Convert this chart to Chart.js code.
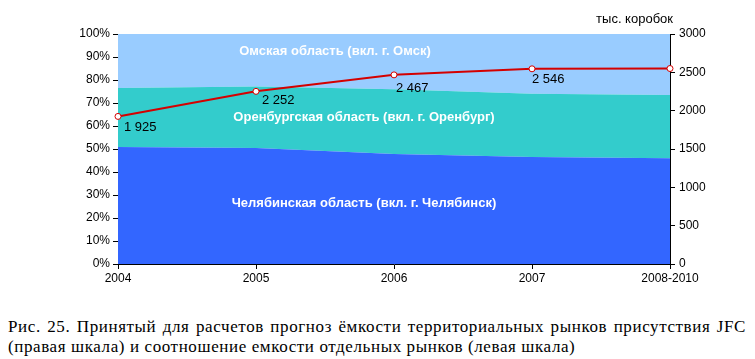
<!DOCTYPE html>
<html><head><meta charset="utf-8">
<script src="https://cdn.jsdelivr.net/npm/chart.js@4"></script>
<style>
html,body{margin:0;padding:0;background:#fff;width:755px;height:359px;overflow:hidden}
#wrap{position:absolute;left:0;top:0;width:755px;height:300px}
#cap{position:absolute;left:8px;top:317px;width:738px;font-family:"Liberation Serif","Times New Roman",serif;font-size:17px;line-height:20px;letter-spacing:0.6px;color:#000}
#cap .l1{text-align:justify;text-align-last:justify;white-space:nowrap}
</style></head><body>
<div id="wrap"><canvas id="c" width="755" height="300"></canvas></div>
<div id="cap"><div class="l1">Рис. 25. Принятый для расчетов прогноз ёмкости территориальных рынков присутствия JFC</div><div>(правая шкала) и соотношение емкости отдельных рынков (левая шкала)</div></div>
<script>
const categories = ['2004', '2005', '2006', '2007', '2008-2010'];
const chelyabinsk = [50.9, 50.4, 47.8, 46.5, 46.0];
const orenburg = [25.6, 26.8, 28.2, 27.5, 27.5];
const omsk = [23.5, 22.8, 24.0, 26.0, 26.5];
const capacity = [1925, 2252, 2467, 2546, 2550];
const capacityLabels = ['1 925', '2 252', '2 467', '2 546', ''];
const leftTicks = [0, 10, 20, 30, 40, 50, 60, 70, 80, 90, 100];
const rightTicks = [0, 500, 1000, 1500, 2000, 2500, 3000];
const regionNames = ['Челябинская область (вкл. г. Челябинск)', 'Оренбургская область (вкл. г. Оренбург)', 'Омская область (вкл. г. Омск)'];
const rightTitle = 'тыс. коробок';

const labelOffsets = [[6, 11], [6, 9], [2, 14], [0, 11], [0, 0]];
const FONT = '"Liberation Sans", Arial, sans-serif';

const textPlugin = {
  id: 'texts',
  afterDatasetsDraw(chart) {
    const ctx = chart.ctx;
    const ca = chart.chartArea;
    const ys = chart.scales.y;
    ctx.save();
    ctx.fillStyle = '#fff';
    ctx.font = 'bold 13px ' + FONT;
    ctx.textAlign = 'center';
    ctx.textBaseline = 'middle';
    ctx.fillText(regionNames[2], 335, ys.getPixelForValue(92.6));
    ctx.fillText(regionNames[1], 364, ys.getPixelForValue(63.9));
    ctx.fillText(regionNames[0], 364, ys.getPixelForValue(26.5));
    const meta = chart.getDatasetMeta(3);
    ctx.fillStyle = '#000';
    ctx.font = '13px ' + FONT;
    ctx.textAlign = 'left';
    meta.data.forEach((pt, i) => {
      if (!capacityLabels[i]) return;
      ctx.fillText(capacityLabels[i], pt.x + labelOffsets[i][0], pt.y + labelOffsets[i][1]);
    });
    ctx.textAlign = 'right';
    ctx.fillText(rightTitle, ca.right + 3, 19);
    ctx.restore();
  }
};

const tickFont = { family: FONT, size: 12 };
new Chart(document.getElementById('c'), {
  data: {
    labels: categories,
    datasets: [
      { type: 'line', label: regionNames[0], data: chelyabinsk, yAxisID: 'y', fill: 'origin', backgroundColor: '#3366FF', borderWidth: 0, pointRadius: 0, tension: 0, order: 1 },
      { type: 'line', label: regionNames[1], data: orenburg, yAxisID: 'y', fill: '-1', backgroundColor: '#33CCCC', borderWidth: 0, pointRadius: 0, tension: 0, order: 1 },
      { type: 'line', label: regionNames[2], data: omsk, yAxisID: 'y', fill: '-1', backgroundColor: '#99CCFF', borderWidth: 0, pointRadius: 0, tension: 0, order: 1 },
      { type: 'line', label: 'capacity', data: capacity, yAxisID: 'y2', fill: false, borderColor: '#D40000', borderWidth: 2, pointRadius: 3, pointBackgroundColor: '#fff', pointBorderColor: '#D40000', pointBorderWidth: 1, tension: 0, clip: false, order: 0 }
    ]
  },
  options: {
    responsive: false,
    animation: false,
    layout: { padding: { top: 34, left: 0, right: 0, bottom: 0 } },
    plugins: { legend: { display: false }, tooltip: { enabled: false } },
    scales: {
      x: {
        type: 'category', offset: false,
        grid: { drawOnChartArea: false, color: '#000', tickLength: 5 },
        border: { color: '#000', width: 1 },
        ticks: { color: '#000', font: tickFont, maxRotation: 0, autoSkip: false, padding: 2 },
        afterFit(s) { s.height = 36; }
      },
      y: {
        position: 'left', stacked: true, min: 0, max: 100,
        grid: { drawOnChartArea: false, color: '#000', tickLength: 5 },
        border: { color: '#000', width: 1 },
        afterBuildTicks(s) { s.ticks = leftTicks.map(v => ({ value: v })); },
        ticks: { color: '#000', font: tickFont, padding: 3, callback: v => v + '%' },
        afterFit(s) { s.width = 118; }
      },
      y2: {
        position: 'right', stacked: false, min: 0, max: 3000,
        grid: { drawOnChartArea: false, color: '#000', tickLength: 5 },
        border: { color: '#000', width: 1 },
        afterBuildTicks(s) { s.ticks = rightTicks.map(v => ({ value: v })); },
        ticks: { color: '#000', font: tickFont, padding: 4, callback: v => String(v) },
        afterFit(s) { s.width = 85; }
      }
    }
  },
  plugins: [textPlugin]
});
</script>
</body></html>
